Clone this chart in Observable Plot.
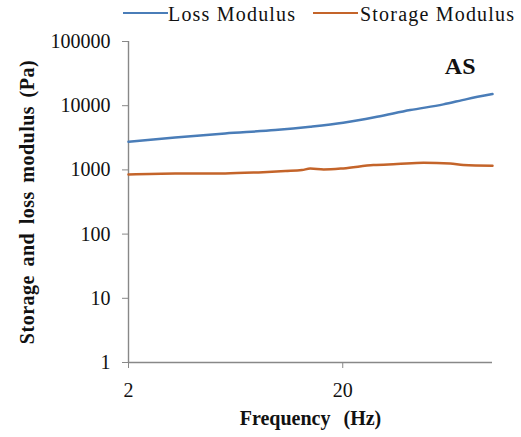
<!DOCTYPE html>
<html>
<head>
<meta charset="utf-8">
<script src="https://cdn.jsdelivr.net/npm/d3@7"></script>
<script src="https://cdn.jsdelivr.net/npm/@observablehq/plot@0.6"></script>
<style>
  html, body { margin: 0; padding: 0; background: #fff; }
  #wrap { width: 521px; height: 437px; overflow: hidden; }
  #legend { position: relative; height: 26px; font-family: "Liberation Serif", "Times New Roman", "DejaVu Serif", serif; font-size: 20px; letter-spacing: 1.2px; color: #111; }
  #legend .sw { position: absolute; top: 11.5px; width: 45px; height: 2.5px; }
  #legend .lb { position: absolute; top: 1px; line-height: 26px; white-space: nowrap; }
  svg text { font-family: "Liberation Serif", "Times New Roman", "DejaVu Serif", serif; }
</style>
</head>
<body>
<div id="wrap">
  <div id="legend"></div>
  <div id="chart"></div>
</div>
<script>
// Series names and colours
const seriesNames = ["Loss Modulus", "Storage Modulus"];
const seriesColors = ["#4a7db8", "#c4642a"];

// Loss modulus (Pa) vs frequency (Hz)
const lossFreq  = [2, 3.3, 5.65, 9.67, 14.1, 20.1, 28.9, 41.3, 59.0, 75.9, 100];
const lossValue = [2740, 3210, 3700, 4170, 4700, 5420, 6710, 8540, 10480, 12670, 15170];

// Storage modulus (Pa) vs frequency (Hz)
const storageFreq  = [2, 3.3, 5.65, 8.09, 10.8, 12.9, 14.1, 16.3, 20.1, 27.8, 35.8, 47.6, 63.4, 73.1, 100];
const storageValue = [851, 882, 882, 914, 958, 993, 1050, 1015, 1055, 1188, 1231, 1290, 1262, 1188, 1158];

// Axis ticks and labels
const xTicks = [2, 20];
const yTicks = [1, 10, 100, 1000, 10000, 100000];
const xDomain = [2, 100];
const yDomain = [1, 100000];
const xTitle = "Frequency (Hz)";
const yTitle = "Storage and loss modulus (Pa)";
const panelLabel = "AS";

const rows = [
  ...lossFreq.map((f, i) => ({series: seriesNames[0], f, v: lossValue[i]})),
  ...storageFreq.map((f, i) => ({series: seriesNames[1], f, v: storageValue[i]}))
];

// Legend (HTML, above the SVG)
const legend = document.getElementById("legend");
const legendPos = [[123, 168], [313, 360]];
seriesNames.forEach((name, i) => {
  const sw = document.createElement("div");
  sw.className = "sw";
  sw.style.left = legendPos[i][0] + "px";
  sw.style.background = seriesColors[i];
  legend.appendChild(sw);
  const lb = document.createElement("span");
  lb.className = "lb";
  lb.style.left = legendPos[i][1] + "px";
  lb.textContent = name;
  legend.appendChild(lb);
});

const axisGrey = "#888";
const serifFont = "'Liberation Serif', 'Times New Roman', 'DejaVu Serif', serif";

const chart = Plot.plot({
  width: 521,
  height: 411,
  marginLeft: 128,
  marginRight: 29,
  marginTop: 15,
  marginBottom: 75,
  style: {fontFamily: serifFont, fontSize: "20px", color: "#111", background: "#fff"},
  x: {type: "log", domain: xDomain},
  y: {type: "log", domain: yDomain},
  color: {domain: seriesNames, range: seriesColors},
  marks: [
    Plot.ruleX([xDomain[0]], {y1: yDomain[0], y2: yDomain[1], stroke: axisGrey, strokeWidth: 1.4}),
    Plot.ruleY([yDomain[0]], {stroke: axisGrey, strokeWidth: 1.4}),
    Plot.axisY({ticks: yTicks, tickFormat: d => String(d), tickSize: 6, tickPadding: 12, stroke: axisGrey, fill: "#111", label: null}),
    Plot.axisX({ticks: xTicks, tickFormat: d => String(d), tickSize: 6, tickPadding: 14, stroke: axisGrey, fill: "#111", label: null}),
    Plot.line(rows, {x: "f", y: "v", z: "series", stroke: "series", strokeWidth: 2.5, curve: "monotone-x"}),
    Plot.text([xTitle], {frameAnchor: "bottom", textAnchor: "middle", lineAnchor: "bottom", dy: 62, fontWeight: "bold", fontSize: 20, fill: "#111"}),
    Plot.text([yTitle], {frameAnchor: "left", textAnchor: "middle", rotate: -90, lineAnchor: "bottom", dx: -95, fontWeight: "bold", fontSize: 20, fill: "#111"}),
    Plot.text([panelLabel], {frameAnchor: "top-right", textAnchor: "end", lineAnchor: "middle", dx: -17, dy: 25, fontWeight: "bold", fontSize: 24, fill: "#111"})
  ]
});
chart.querySelectorAll("text").forEach(t => {
  if (t.textContent === yTitle) { t.style.wordSpacing = "3px"; t.style.letterSpacing = "0.5px"; }
  if (t.textContent === xTitle) { t.style.wordSpacing = "8px"; }
});
document.getElementById("chart").appendChild(chart);
</script>
</body>
</html>
